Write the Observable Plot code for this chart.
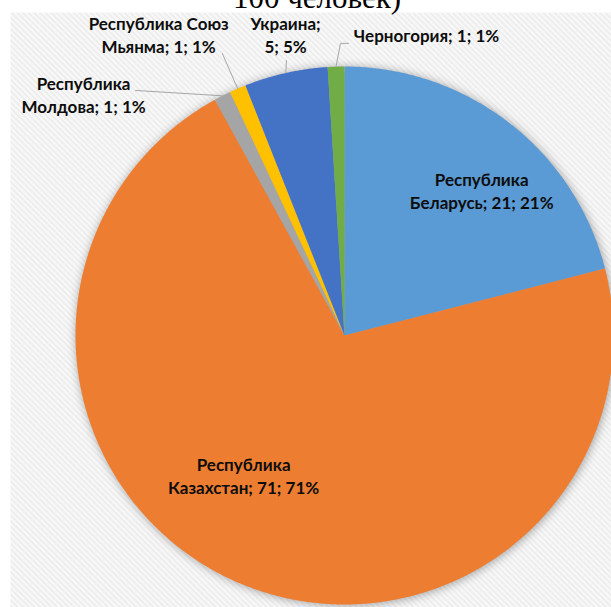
<!DOCTYPE html>
<html><head><meta charset="utf-8">
<script src="https://cdn.jsdelivr.net/npm/d3@7"></script>
<script src="https://cdn.jsdelivr.net/npm/@observablehq/plot@0.6"></script>
<style>body{margin:0;background:#fff} #chart svg{display:block}</style>
</head><body><div id="chart"></div>
<script>
// ---- data ----
const countries = ["Республика Беларусь","Республика Казахстан","Республика Молдова","Республика Союз Мьянма","Украина","Черногория"];
const values = [21, 71, 1, 1, 5, 1];
const labels = ["Республика\nБеларусь; 21; 21%","Республика\nКазахстан; 71; 71%","Республика\nМолдова; 1; 1%","Республика Союз\nМьянма; 1; 1%","Украина;\n5; 5%","Черногория; 1; 1%"];
const titleText = "100 человек)";

// ---- styling / layout ----
const colors = ["#5B9BD5","#ED7D31","#A5A5A5","#FFC000","#4472C4","#70AD47"];
const labelAt = [[0.51,0.54],[-0.375,-0.52],[-0.970,0.897],[-0.691,1.12],[-0.219,1.12],[0.305,1.118]];
const leaderTo = [null,null,[[-0.777,0.911]],[[-0.454,1.048]],[[-0.216,1.022]],[[-0.015,1.086],[0.015,1.086]]];

const arcs = d3.pie().sort(null).value(d => d)(values);
const slicePts = [];
const leaderPts = [];
arcs.forEach((p, i) => {
  slicePts.push({name: countries[i], x: 0, y: 0});
  const n = Math.max(4, Math.ceil((p.endAngle - p.startAngle) / (Math.PI / 360)));
  for (let k = 0; k <= n; k++) {
    const a = p.startAngle + (p.endAngle - p.startAngle) * k / n;
    slicePts.push({name: countries[i], x: Math.sin(a), y: Math.cos(a)});
  }
  if (leaderTo[i]) {
    const m = (p.startAngle + p.endAngle) / 2;
    leaderPts.push({name: countries[i], x: Math.sin(m), y: Math.cos(m)});
    leaderTo[i].forEach(([x, y]) => leaderPts.push({name: countries[i], x, y}));
  }
});
const labelData = labels.map((t, i) => ({text: t, x: labelAt[i][0], y: labelAt[i][1]}));

const chart = Plot.plot({
  width: 611, height: 607,
  marginLeft: 10, marginTop: 12, marginRight: 0, marginBottom: 0,
  style: {fontFamily: "Lato, 'Open Sans', sans-serif", background: "#fff"},
  x: {domain: [-1, 1], range: [75, 613], axis: null},
  y: {domain: [-1, 1], range: [604, 66], axis: null},
  color: {domain: countries, range: colors},
  marks: [
    Plot.frame({fill: "url(#hatch)", stroke: "none"}),
    Plot.line(slicePts, {x: "x", y: "y", z: "name", fill: "name", stroke: "none"}),
    Plot.line(leaderPts, {x: "x", y: "y", z: "name", stroke: "#a6a6a6", strokeWidth: 1}),
    Plot.text(labelData, {x: "x", y: "y", text: "text", fontSize: 17, fontWeight: "bold", lineHeight: 23/17, fill: "#0d0d0d", lineAnchor: "middle"}),
    Plot.text([titleText], {frameAnchor: "top", dx: 6, dy: -5, lineAnchor: "bottom", fontSize: 31, fontFamily: "'Liberation Serif', serif", fill: "#000"})
  ]
});
const svg = d3.select(chart);
const pat = svg.insert("defs", ":first-child").append("pattern")
  .attr("id", "hatch").attr("patternUnits", "userSpaceOnUse")
  .attr("width", 4).attr("height", 4).attr("patternTransform", "rotate(45)");
pat.append("rect").attr("width", 4).attr("height", 4).attr("fill", "#f8f8f8");
pat.append("rect").attr("width", 4).attr("height", 1.6).attr("fill", "#ebebeb");
svg.selectAll('g[aria-label="line"]').filter((d, i) => i === 0)
  .style("filter", "drop-shadow(1px 1px 5px rgba(0,0,0,0.35))");
document.getElementById("chart").append(chart);
</script></body></html>
